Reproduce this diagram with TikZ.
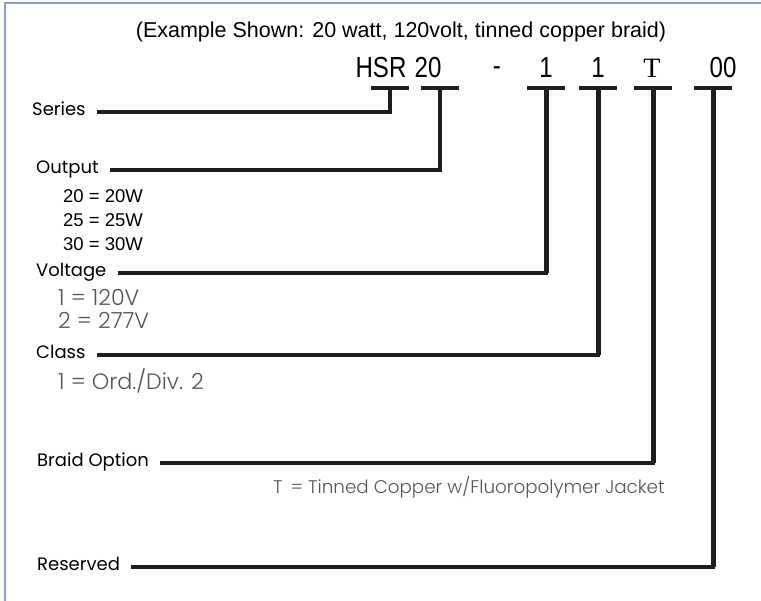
\documentclass[tikz,border=0pt]{standalone}
\usepackage{fontspec}
\setmainfont{Liberation Sans}
\newfontfamily\futura{Poppins}
\newfontfamily\futuralight{Poppins Light}
\newfontfamily\narrowsf[FakeStretch=0.83]{Liberation Sans}
\newfontfamily\serifT{Liberation Serif}
\usetikzlibrary{positioning}
\definecolor{framebl}{RGB}{140,155,215}
\definecolor{inkgrey}{RGB}{85,85,85}
\definecolor{linedark}{RGB}{30,30,30}
\tikzset{
  field/.style={anchor=west, inner sep=0pt, text height=1.5ex, text depth=0.3ex,
    font=\futura\fontsize{18}{22}\selectfont},
  option/.style={anchor=west, inner sep=0pt, font=\fontsize{18.5}{22}\selectfont},
  lightoption/.style={anchor=west, inner sep=0pt, text=inkgrey,
    font=\futuralight\fontsize{22.2}{25}\selectfont},
  code/.style={inner sep=0pt, font=\narrowsf\fontsize{29}{32}\selectfont},
  lead/.style={draw=linedark, line width=3.5pt, shorten <=11pt},
  stem/.style={draw=linedark, line width=5pt},
  bar/.style={draw=linedark, line width=4pt},
}
\begin{document}
\begin{tikzpicture}[x=1pt,y=-1pt]
\useasboundingbox (0,0) rectangle (761,601);
\draw[framebl, line width=2pt] (5,601) -- (5,3) -- (761,3);

% heading
\node[font=\fontsize{21.5}{25}\selectfont] (head) at (401,32) {(Example Shown: 20 watt, 120volt, tinned copper braid)};

% part number
\node[code] (cHSR) at (381,68) {HSR};
\node[code] (cOut) at (428,68) {20};
\node[code] (cDash) at (497,71) {-};
\node[code] (cVolt) at (546,68) {1};
\node[code] (cClass) at (598,68) {1};
\node[code, font=\serifT\fontsize{28}{32}\selectfont] (cBraid) at (652,68) {T};
\node[code] (cRes) at (723,68) {00};

\coordinate (bHSR) at (390,88);
\coordinate (bOut) at (440,88);
\coordinate (bVolt) at (546,88);
\coordinate (bClass) at (598,88);
\coordinate (bBraid) at (653,88);
\coordinate (bRes) at (713,88);
\foreach \b in {bHSR,bOut,bVolt,bClass,bBraid,bRes}
  \draw[bar] ([xshift=-19pt]\b) -- ([xshift=19pt]\b);

% fields
\node[field] (lSeries) at (32,112) {Series};
\node[field] (lOut) at (36,170) {Output};
\node[option] (o20) at (63,196) {20 = 20W};
\node[option] (o25) at (63,220) {25 = 25W};
\node[option] (o30) at (63,244) {30 = 30W};
\node[field] (lVolt) at (36,273) {Voltage};
\node[lightoption] (v1) at (58,297) {1 = 120V};
\node[lightoption] (v2) at (58,320) {2 = 277V};
\node[field] (lClass) at (36,355) {Class};
\node[lightoption] (k1) at (58,381) {1 = Ord./Div. 2};
\node[field] (lBraid) at (37,463) {Braid Option};
\node[lightoption, font=\futuralight\fontsize{18.3}{22}\selectfont] (t1) at (273,487) {T \,= Tinned Copper w/Fluoropolymer Jacket};
\node[field] (lRes) at (37,567) {Reserved};

\draw[lead] (lSeries.east) -| (bHSR);
\draw[lead] (lOut.east) -| (bOut);
\draw[lead] (lVolt.east) -| (bVolt);
\draw[stem] (bVolt) -- (bVolt |- lVolt.east);
\draw[lead] (lClass.east) -| (bClass);
\draw[stem] (bClass) -- (bClass |- lClass.east);
\draw[lead] (lBraid.east) -| (bBraid);
\draw[stem] (bBraid) -- (bBraid |- lBraid.east);
\draw[lead] (lRes.east) -| (bRes);
\draw[stem] (bRes) -- (bRes |- lRes.east);
\end{tikzpicture}
\end{document}
